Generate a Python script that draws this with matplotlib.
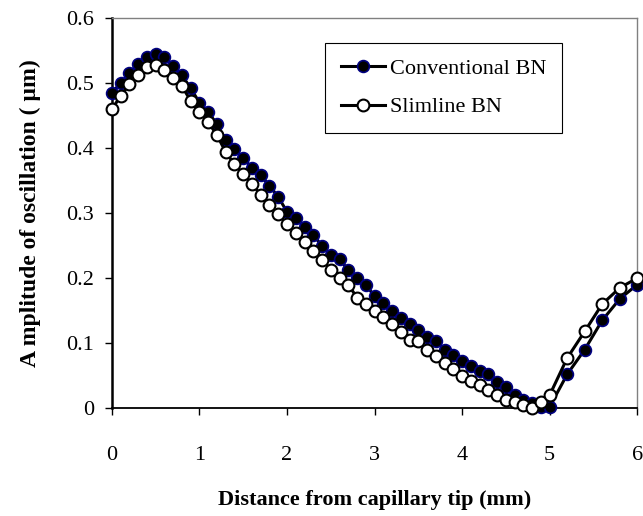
import numpy as np
import matplotlib
matplotlib.use('Agg')
import matplotlib.pyplot as plt

# distance from capillary tip (mm)
x = [0.0, 0.1, 0.2, 0.3, 0.4, 0.5, 0.6, 0.7, 0.8, 0.9,
     1.0, 1.1, 1.2, 1.3, 1.4, 1.5, 1.6, 1.7, 1.8, 1.9,
     2.0, 2.1, 2.2, 2.3, 2.4, 2.5, 2.6, 2.7, 2.8, 2.9,
     3.0, 3.1, 3.2, 3.3, 3.4, 3.5, 3.6, 3.7, 3.8, 3.9,
     4.0, 4.1, 4.2, 4.3, 4.4, 4.5, 4.6, 4.7, 4.8, 4.9,
     5.0, 5.2, 5.4, 5.6, 5.8, 6.0]

conventional = [0.485, 0.500, 0.515, 0.530, 0.540, 0.545, 0.540, 0.527, 0.512, 0.492,
                0.470, 0.455, 0.437, 0.412, 0.398, 0.384, 0.370, 0.358, 0.342, 0.325,
                0.302, 0.292, 0.278, 0.266, 0.250, 0.236, 0.230, 0.212, 0.200, 0.190,
                0.172, 0.162, 0.150, 0.138, 0.130, 0.120, 0.110, 0.103, 0.090, 0.082,
                0.073, 0.065, 0.057, 0.052, 0.040, 0.032, 0.020, 0.012, 0.008, 0.002,
                0.002, 0.052, 0.090, 0.135, 0.168, 0.190]

slimline = [0.460, 0.480, 0.498, 0.513, 0.525, 0.528, 0.520, 0.508, 0.495, 0.473,
            0.455, 0.440, 0.420, 0.394, 0.375, 0.360, 0.345, 0.328, 0.313, 0.298,
            0.283, 0.270, 0.255, 0.242, 0.228, 0.213, 0.200, 0.190, 0.170, 0.160,
            0.150, 0.140, 0.130, 0.117, 0.105, 0.104, 0.090, 0.080, 0.070, 0.060,
            0.050, 0.042, 0.036, 0.028, 0.020, 0.012, 0.010, 0.005, 0.000, 0.010,
            0.020, 0.077, 0.118, 0.160, 0.185, 0.200]

plt.rcParams['font.family'] = ['Liberation Serif', 'DejaVu Serif']

fig = plt.figure(figsize=(6.43, 5.16), dpi=100)
ax = fig.add_axes([0.174, 0.209, 0.817, 0.756])

ax.plot(x, conventional, color='black', lw=2.2, marker='o', markersize=8.5,
        markerfacecolor='black', markeredgecolor='#000080', markeredgewidth=1.2,
        label='Conventional BN', clip_on=False, zorder=3)
ax.plot(x, slimline, color='black', lw=2.2, marker='o', markersize=8.5,
        markerfacecolor='white', markeredgecolor='black', markeredgewidth=1.5,
        label='Slimline BN', clip_on=False, zorder=4)

ax.set_xlim(0, 6)
ax.set_ylim(0, 0.6)
ax.set_xticks(range(0, 7))
ax.set_yticks([0, 0.1, 0.2, 0.3, 0.4, 0.5, 0.6])
ax.set_yticklabels(['0', '0.1', '0.2', '0.3', '0.4', '0.5', '0.6'])

ax.tick_params(axis='x', direction='out', length=5, width=1, pad=22, labelsize=16)
ax.tick_params(axis='y', direction='out', length=5, width=1, pad=8, labelsize=16)

for s in ['top', 'right']:
    ax.spines[s].set_color('#808080')
    ax.spines[s].set_linewidth(1.0)
ax.spines['left'].set_linewidth(1.8)
ax.spines['bottom'].set_linewidth(1.3)

ax.set_xlabel('Distance from capillary tip (mm)', fontsize=16, fontweight='bold', labelpad=18)
ax.set_ylabel('A mplitude of oscillation ( µm)', fontsize=17, fontweight='bold', labelpad=18)

leg = ax.legend(loc='upper left', bbox_to_anchor=(0.406, 0.936), borderaxespad=0,
                fontsize=16, fancybox=False, edgecolor='black', framealpha=1,
                handlelength=2.0, borderpad=0.7, labelspacing=0.8, handletextpad=0.2)
leg.get_frame().set_linewidth(0.8)

fig.savefig('out.png', dpi=100)
